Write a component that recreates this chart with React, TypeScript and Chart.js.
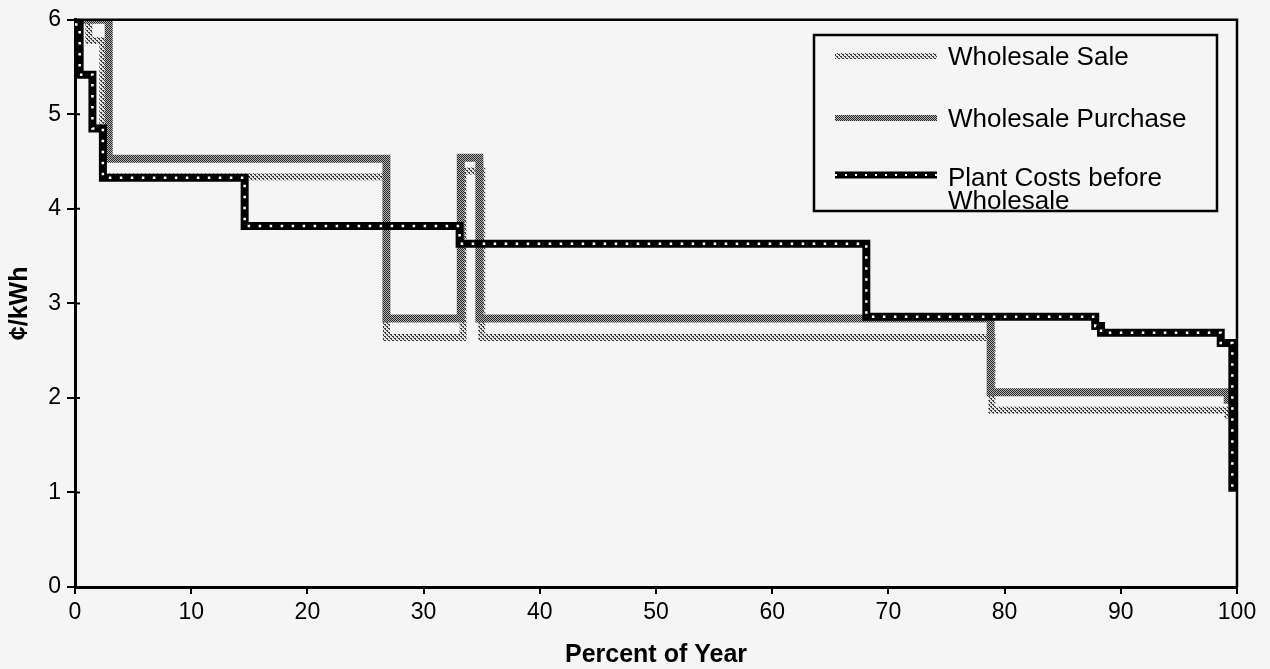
import React, { useEffect, useRef } from 'react';
import { Chart, registerables } from 'chart.js';

Chart.register(...registerables);

// ---- data (percent of year vs cents/kWh, step breaks) ----
const xTickValues = [0, 10, 20, 30, 40, 50, 60, 70, 80, 90, 100];
const yTickValues = [0, 1, 2, 3, 4, 5, 6];

const saleX = [0, 1.2, 2.4, 26.8, 33.4, 35.0, 78.9, 99.2, 100];
const saleY = [6, 5.78, 4.34, 2.64, 4.40, 2.64, 1.87, 1.82, 1.82];

const purchaseX = [0, 2.9, 26.8, 33.2, 34.8, 78.8, 99.2, 100];
const purchaseY = [6, 4.53, 2.84, 4.54, 2.84, 2.06, 1.98, 1.98];

const plantX = [0, 0.4, 1.5, 2.4, 14.6, 33.1, 68.1, 87.8, 88.3, 98.6, 99.6, 100];
const plantY = [5.95, 5.42, 4.85, 4.33, 3.82, 3.63, 2.86, 2.76, 2.69, 2.58, 1.05, 1.05];

const legendLabels = ['Wholesale Sale', 'Wholesale Purchase', ['Plant Costs before', 'Wholesale']];

const FONT = "'Liberation Sans', Arial, Helvetica, sans-serif";
const BG = '#f5f5f5';

function toPoints(xs: number[], ys: number[]) {
  return xs.map((x, i) => ({ x, y: ys[i] }));
}

function makePattern(ctx: CanvasRenderingContext2D, size: number, draw: (g: CanvasRenderingContext2D) => void) {
  const c = document.createElement('canvas');
  c.width = size;
  c.height = size;
  const g = c.getContext('2d') as CanvasRenderingContext2D;
  draw(g);
  return ctx.createPattern(c, 'repeat') as CanvasPattern;
}

export default function App() {
  const ref = useRef<HTMLCanvasElement | null>(null);

  useEffect(() => {
    document.body.style.margin = '0';
    const canvas = ref.current;
    if (!canvas) return;
    const ctx = canvas.getContext('2d') as CanvasRenderingContext2D;

    const salePattern = makePattern(ctx, 4, (g) => {
      g.fillStyle = '#e2e2e2';
      g.fillRect(0, 0, 4, 4);
      g.fillStyle = '#3a3a3a';
      g.fillRect(0, 0, 2, 1);
      g.fillRect(2, 2, 2, 1);
      g.fillRect(1, 1, 1, 1);
      g.fillRect(3, 3, 1, 1);
    });
    const purchasePattern = makePattern(ctx, 2, (g) => {
      g.fillStyle = '#b4b4b4';
      g.fillRect(0, 0, 2, 2);
      g.fillStyle = '#262626';
      g.fillRect(0, 0, 1, 1);
      g.fillRect(1, 1, 1, 1);
    });

    const bgPlugin = {
      id: 'bg',
      beforeDraw(chart: any) {
        const c = chart.ctx;
        c.save();
        c.fillStyle = BG;
        c.fillRect(0, 0, chart.width, chart.height);
        c.restore();
      },
    };

    const framePlugin = {
      id: 'frame',
      afterDatasetsDraw(chart: any) {
        const { ctx: c, chartArea: a, scales } = chart;
        c.save();
        c.strokeStyle = '#000';
        c.lineWidth = 2.5;
        c.beginPath();
        c.moveTo(a.left, a.top);
        c.lineTo(a.right, a.top);
        c.lineTo(a.right, a.bottom);
        c.stroke();
        // inward halves of the y tick marks
        c.lineWidth = 2;
        c.beginPath();
        yTickValues.forEach((v) => {
          const py = scales.y.getPixelForValue(v);
          c.moveTo(a.left, py);
          c.lineTo(a.left + 5, py);
        });
        c.stroke();
        c.restore();
      },
    };

    const legendPlugin = {
      id: 'customLegend',
      afterDraw(chart: any) {
        const c = chart.ctx as CanvasRenderingContext2D;
        const bx = 814, by = 35, bw = 403, bh = 176;
        c.save();
        c.fillStyle = BG;
        c.fillRect(bx, by, bw, bh);
        c.strokeStyle = '#000';
        c.lineWidth = 2.5;
        c.strokeRect(bx, by, bw, bh);

        const x0 = 835, x1 = 937;
        const rows = [56, 118, 175];
        const drawLine = (y: number, style: any, w: number, dash?: number[]) => {
          c.beginPath();
          c.setLineDash(dash || []);
          c.strokeStyle = style;
          c.lineWidth = w;
          c.moveTo(x0, y);
          c.lineTo(x1, y);
          c.stroke();
          c.setLineDash([]);
        };
        drawLine(rows[0], salePattern, 6);
        drawLine(rows[1], purchasePattern, 6);
        drawLine(rows[2], '#000', 7);
        drawLine(rows[2], '#fff', 2, [2, 8]);

        c.fillStyle = '#000';
        c.font = `26px ${FONT}`;
        c.textBaseline = 'middle';
        c.textAlign = 'left';
        c.fillText(legendLabels[0] as string, 948, rows[0] + 2);
        c.fillText(legendLabels[1] as string, 948, rows[1] + 2);
        const l3 = legendLabels[2] as string[];
        c.fillText(l3[0], 948, rows[2] + 4);
        c.fillText(l3[1], 948, rows[2] + 27);
        c.restore();
      },
    };

    const chart = new Chart(ctx, {
      type: 'line',
      data: {
        datasets: [
          {
            label: 'Plant Costs before Wholesale (dots)',
            data: toPoints(plantX, plantY),
            stepped: true,
            borderColor: '#ffffff',
            borderWidth: 2.5,
            borderDash: [2.5, 8.5],
            borderCapStyle: 'butt',
            pointRadius: 0,
            fill: false,
          },
          {
            label: 'Plant Costs before Wholesale',
            data: toPoints(plantX, plantY),
            stepped: true,
            borderColor: '#000000',
            borderWidth: 8,
            borderJoinStyle: 'miter',
            pointRadius: 0,
            fill: false,
          },
          {
            label: 'Wholesale Purchase',
            data: toPoints(purchaseX, purchaseY),
            stepped: true,
            borderColor: purchasePattern as any,
            borderWidth: 8,
            borderJoinStyle: 'miter',
            pointRadius: 0,
            fill: false,
          },
          {
            label: 'Wholesale Sale',
            data: toPoints(saleX, saleY),
            stepped: true,
            borderColor: salePattern as any,
            borderWidth: 7,
            borderJoinStyle: 'miter',
            pointRadius: 0,
            fill: false,
          },
        ],
      },
      options: {
        responsive: false,
        animation: false,
        devicePixelRatio: 1,
        events: [],
        layout: { padding: { top: 19, right: 33, left: 0, bottom: 0 } },
        plugins: {
          legend: { display: false },
          tooltip: { enabled: false },
        },
        scales: {
          x: {
            type: 'linear',
            min: 0,
            max: 100,
            afterBuildTicks: (s: any) => {
              s.ticks = xTickValues.map((v) => ({ value: v }));
            },
            ticks: { color: '#000', font: { family: FONT, size: 23 }, padding: 5, maxRotation: 0 },
            grid: { drawOnChartArea: false, drawTicks: true, tickLength: 7, color: '#000', lineWidth: 2 },
            border: { display: true, color: '#000', width: 3 },
            title: {
              display: true,
              text: 'Percent of Year',
              color: '#000',
              font: { family: FONT, size: 25, weight: 'bold', lineHeight: 1.1 },
              padding: { top: 0, bottom: 0 },
            },
            afterFit: (s: any) => {
              s.height = 82;
            },
          },
          y: {
            type: 'linear',
            min: 0,
            max: 6,
            afterBuildTicks: (s: any) => {
              s.ticks = yTickValues.map((v) => ({ value: v }));
            },
            ticks: { color: '#000', font: { family: FONT, size: 23 }, padding: 6 },
            grid: { drawOnChartArea: false, drawTicks: true, tickLength: 8, color: '#000', lineWidth: 2 },
            border: { display: true, color: '#000', width: 3 },
            title: {
              display: true,
              text: '¢/kWh',
              color: '#000',
              font: { family: FONT, size: 25, weight: 'bold', lineHeight: 1.2 },
              padding: { top: 5, bottom: 0 },
            },
            afterFit: (s: any) => {
              s.width = 75;
            },
          },
        },
      } as any,
      plugins: [bgPlugin, framePlugin, legendPlugin],
    });

    return () => {
      chart.destroy();
    };
  }, []);

  return (
    <div style={{ position: 'absolute', left: 0, top: 0, width: 1270, height: 669 }}>
      <canvas ref={ref} width={1270} height={669} style={{ display: 'block', width: 1270, height: 669 }} />
    </div>
  );
}
